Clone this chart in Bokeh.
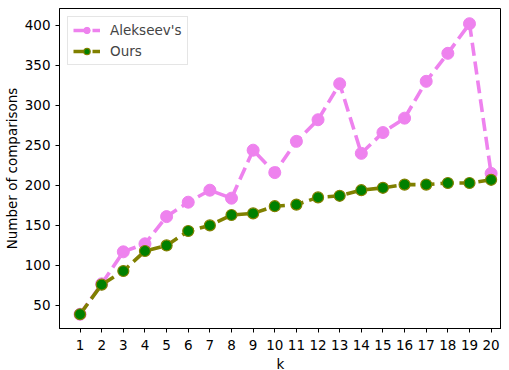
from bokeh.plotting import figure
from bokeh.models import FixedTicker, Range1d, Legend, LegendItem
from bokeh.embed import file_html
from bokeh.resources import INLINE

k = list(range(1, 21))
alekseev = [39, 77, 117, 127, 161, 179, 194, 184, 244, 216, 255, 282, 327, 240, 266, 284, 330, 365, 402, 215]
ours = [39, 76, 93, 118, 125, 143, 150, 163, 165, 174, 176, 185, 187, 194, 197, 201, 201, 203, 203, 207]
y_ticks = [50, 100, 150, 200, 250, 300, 350, 400]

FONT = "DejaVu Sans"

p = figure(width=501, height=376, output_backend="svg", toolbar_location=None,
           x_range=Range1d(0.05, 20.48), y_range=Range1d(21.2, 421),
           min_border_left=53, min_border_right=0, min_border_top=8, min_border_bottom=48)
p.xgrid.visible = False
p.ygrid.visible = False
p.outline_line_color = "black"
p.outline_line_width = 1
p.outline_line_alpha = 1

l1 = p.line(k, alekseev, line_color="violet", line_width=3.6, line_dash="13 6")
s1 = p.scatter(k, alekseev, size=12, fill_color="violet", line_color="violet")
l2 = p.line(k, ours, line_color="olive", line_width=3.6, line_dash="13 6")
s2 = p.scatter(k, ours, size=11, fill_color="green", line_color="olive", line_width=1.2)

legend = Legend(items=[LegendItem(label="Alekseev's", renderers=[l1, s1]),
                       LegendItem(label="Ours", renderers=[l2, s2])],
                location="top_left")
legend.label_text_font = FONT
legend.label_text_font_size = "13.5px"
legend.glyph_width = 27
legend.glyph_height = 16
legend.label_standoff = 10
legend.spacing = 5
legend.padding = 5
legend.margin = 8
legend.border_line_color = "#cccccc"
legend.border_line_width = 1
legend.background_fill_alpha = 0.8
p.add_layout(legend)

for ax in (p.xaxis[0], p.yaxis[0]):
    ax.major_label_text_font = FONT
    ax.major_label_text_font_size = "13.5px"
    ax.major_label_text_color = "black"
    ax.axis_label_text_font = FONT
    ax.axis_label_text_font_size = "13.5px"
    ax.axis_label_text_font_style = "normal"
    ax.axis_label_text_color = "black"
    ax.minor_tick_line_color = None
    ax.major_tick_out = 4
    ax.major_tick_in = 0
    ax.axis_line_color = "black"
    ax.major_tick_line_color = "black"

p.xaxis.major_label_standoff = 7
p.yaxis.major_label_standoff = 5
p.xaxis.ticker = FixedTicker(ticks=k)
p.yaxis.ticker = FixedTicker(ticks=y_ticks)
p.xaxis.axis_label = "k"
p.yaxis.axis_label = "Number of comparisons"
p.xaxis.axis_label_standoff = 3
p.yaxis.axis_label_standoff = 2

open("out.html", "w").write(file_html(p, INLINE))
